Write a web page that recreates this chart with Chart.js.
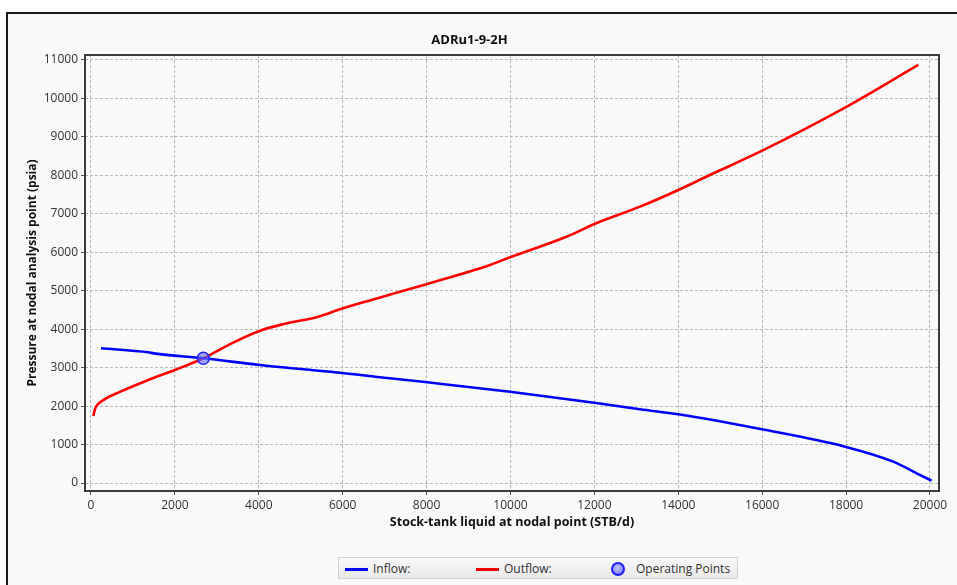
<!DOCTYPE html>
<html>
<head>
<meta charset="utf-8">
<script src="https://cdn.jsdelivr.net/npm/chart.js@4/dist/chart.umd.min.js"></script>
<style>
  html, body { margin: 0; padding: 0; background: #ffffff; }
  #wrap { position: relative; width: 957px; height: 585px; overflow: hidden; }
  #frame { position: absolute; left: 6px; top: 12px; width: 1000px; height: 700px;
           border-left: 2px solid #1a1a1a; border-top: 2px solid #1a1a1a; background: #f9f9f9; }
  #c { position: absolute; left: 0; top: 0; }
  #legend { position: absolute; left: 338px; top: 557px; width: 398px; height: 20px;
            border: 1px solid #d2d2d2; background: linear-gradient(#f8f8f8, #e9e9e9);
            font: 12px "Open Sans", sans-serif; color: #333; }
  #legend span { position: absolute; top: 2px; white-space: nowrap; }
  #legend .ln { position: absolute; top: 10px; height: 3px; width: 23px; }
  #legend .pt { position: absolute; top: 4px; width: 10px; height: 10px; border-radius: 50%;
                border: 2px solid #2020ff; background: radial-gradient(circle at 45% 40%, #c8c8ff, #6f6fff); }
</style>
</head>
<body>
<div id="wrap">
  <div id="frame"></div>
  <canvas id="c" width="957" height="585"></canvas>
  <div id="legend">
    <div class="ln" style="left:6px;background:#0000ff"></div><span style="left:34px">Inflow:</span>
    <div class="ln" style="left:137px;background:#ff0000"></div><span style="left:165px">Outflow:</span>
    <div class="pt" style="left:272px"></div><span style="left:297px">Operating Points</span>
  </div>
</div>
<script>
// Outflow (tubing performance) curve
const outflowX = [55, 90, 120, 238, 700, 1366, 2000, 2678, 3354, 4029, 4600, 5419, 5936, 6770, 8017, 9511, 9988, 11378, 12000, 13087, 14000, 14755, 15988, 17974, 19721];
const outflowY = [1742, 1899, 1985, 2114, 2375, 2679, 2939, 3243, 3633, 3961, 4135, 4325, 4518, 4785, 5176, 5670, 5870, 6424, 6736, 7186, 7620, 8010, 8635, 9761, 10871];

// Inflow (IPR) curve
const inflowX = [238, 1366, 1500, 2678, 4029, 5419, 5936, 6770, 8017, 9988, 11998, 13087, 14000, 15988, 17974, 19125, 19683, 20040];
const inflowY = [3503, 3399, 3370, 3243, 3069, 2921, 2869, 2765, 2619, 2375, 2088, 1916, 1786, 1396, 945, 555, 252, 60];

// Operating point (intersection)
const opX = [2678];
const opY = [3243];

// Axis ticks
const xTicks = [0, 2000, 4000, 6000, 8000, 10000, 12000, 14000, 16000, 18000, 20000];
const yTicks = [0, 1000, 2000, 3000, 4000, 5000, 6000, 7000, 8000, 9000, 10000, 11000];

const chartTitle = 'ADRu1-9-2H';
const xTitle = 'Stock-tank liquid at nodal point (STB/d)';
const yTitle = 'Pressure at nodal analysis point (psia)';

const pts = (xs, ys) => xs.map((x, i) => ({ x: x, y: ys[i] }));

const FONT = '"Open Sans", sans-serif';

const plotFrame = {
  id: 'plotFrame',
  afterDatasetsDraw(chart) {
    const a = chart.chartArea, ctx = chart.ctx;
    ctx.save();
    ctx.strokeStyle = '#3c3c3c';
    ctx.lineWidth = 2;
    ctx.strokeRect(a.left, a.top, a.right - a.left, a.bottom - a.top);
    ctx.restore();
  }
};

const gridOpts = { color: '#b9b9b9', lineWidth: 1, tickLength: 4, tickColor: '#555', tickWidth: 1, tickBorderDash: [] };

new Chart(document.getElementById('c'), {
  type: 'scatter',
  data: {
    datasets: [
      {
        label: 'Operating Points', data: pts(opX, opY), order: -1, showLine: false,
        pointRadius: 6, pointBorderWidth: 1.5,
        pointBackgroundColor: 'rgba(105,110,255,0.6)', pointBorderColor: '#2424ff'
      },
      {
        label: 'Inflow:', data: pts(inflowX, inflowY), showLine: true,
        borderColor: '#0000ff', borderWidth: 2.6, pointRadius: 0,
        cubicInterpolationMode: 'monotone'
      },
      {
        label: 'Outflow:', data: pts(outflowX, outflowY), showLine: true,
        borderColor: '#ff0000', borderWidth: 2.6, pointRadius: 0,
        cubicInterpolationMode: 'monotone'
      }
    ]
  },
  options: {
    responsive: false,
    animation: false,
    layout: { padding: { left: 0, right: 18, top: 0, bottom: 0 } },
    plugins: {
      legend: { display: false },
      tooltip: { enabled: false },
      title: {
        display: true, text: chartTitle, color: '#111',
        font: { family: FONT, size: 13, weight: 'bold' },
        padding: { top: 32.2, bottom: 7.2 }
      }
    },
    scales: {
      x: {
        type: 'linear', min: -143, max: 20215,
        afterBuildTicks: s => { s.ticks = xTicks.map(v => ({ value: v })); },
        afterFit: s => { s.height = 94; },
        ticks: { color: '#333', font: { family: FONT, size: 12 }, padding: 3, maxRotation: 0, autoSkip: false,
                 callback: v => String(v) },
        grid: gridOpts,
        border: { display: false, dash: [3, 2] },
        title: { display: true, text: xTitle, color: '#111',
                 font: { family: FONT, size: 12.5, weight: 'bold' }, padding: { top: 0, bottom: 55.5 } }
      },
      y: {
        type: 'linear', min: -208, max: 11130,
        afterBuildTicks: s => { s.ticks = yTicks.map(v => ({ value: v })); },
        afterFit: s => { s.width = 85; },
        ticks: { color: '#333', font: { family: FONT, size: 12 }, padding: 3, autoSkip: false,
                 callback: v => String(v) },
        grid: gridOpts,
        border: { display: false, dash: [3, 2] },
        title: { display: true, text: yTitle, color: '#111',
                 font: { family: FONT, size: 12, weight: 'bold' }, padding: { top: 25, bottom: 0 } }
      }
    }
  },
  plugins: [plotFrame]
});
</script>
</body>
</html>
